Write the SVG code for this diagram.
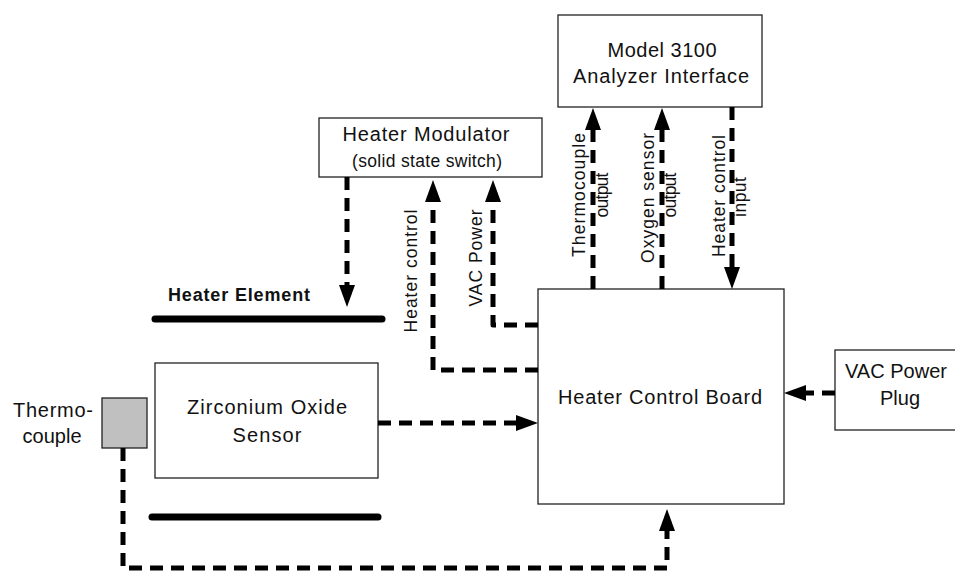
<svg xmlns="http://www.w3.org/2000/svg" width="955" height="572" viewBox="0 0 955 572">
<style>
.box{fill:#fff;stroke:#222;stroke-width:1.3}
.t{font-family:"Liberation Sans",Arial,sans-serif;font-size:20px;fill:#111;text-anchor:middle}
.s{font-size:17.5px}
.b{font-weight:bold;font-size:18px}
.c{fill:none;stroke:#000;stroke-width:5;stroke-dasharray:13 8;stroke-linejoin:round}
.bar{stroke:#000;stroke-width:7;stroke-linecap:round}
</style>
<defs>
<marker id="ah" markerUnits="userSpaceOnUse" markerWidth="24" markerHeight="18" refX="0" refY="9" orient="auto" viewBox="0 0 24 18">
<path d="M0,1 L22,9 L0,17 z" fill="#000"/>
</marker>
</defs>
<rect width="955" height="572" fill="#fff"/>
<g id="model3100">
<rect class="box" x="558" y="15" width="204" height="92"/>
<text class="t" x="662" y="57" textLength="109" lengthAdjust="spacing">Model 3100</text>
<text class="t" x="661" y="83" textLength="176" lengthAdjust="spacing">Analyzer Interface</text>
</g>
<g id="heater-modulator">
<rect class="box" x="319" y="118" width="223" height="59"/>
<text class="t" x="426" y="141" textLength="167" lengthAdjust="spacing">Heater Modulator</text>
<text class="t s" x="427" y="167" textLength="150" lengthAdjust="spacing">(solid state switch)</text>
</g>
<g id="heater-element">
<text class="t b" x="239" y="301" textLength="142" lengthAdjust="spacing">Heater Element</text>
<line class="bar" x1="155" y1="319" x2="382" y2="319"/>
<line class="bar" x1="152" y1="517" x2="378" y2="517"/>
</g>
<g id="zirconium-sensor">
<rect class="box" x="155" y="363" width="223" height="115"/>
<text class="t" x="267" y="414" textLength="160" lengthAdjust="spacing">Zirconium Oxide</text>
<text class="t" x="267" y="442" textLength="69" lengthAdjust="spacing">Sensor</text>
</g>
<g id="thermocouple">
<rect x="102" y="398" width="45" height="50" fill="#c0c0c0" stroke="#222" stroke-width="1.3"/>
<text class="t" x="53" y="417" textLength="80" lengthAdjust="spacing">Thermo-</text>
<text class="t" x="52" y="443" textLength="59" lengthAdjust="spacing">couple</text>
</g>
<g id="heater-control-board">
<rect class="box" x="538" y="289" width="246" height="215"/>
<text class="t" x="660" y="404" textLength="204" lengthAdjust="spacing">Heater Control Board</text>
</g>
<g id="vac-power-plug">
<rect class="box" x="835" y="350" width="130" height="80"/>
<text class="t" x="896" y="378" textLength="102" lengthAdjust="spacing">VAC Power</text>
<text class="t" x="900" y="405" textLength="40" lengthAdjust="spacing">Plug</text>
</g>
<g id="connectors">
<path class="c" d="M347,177 V285" marker-end="url(#ah)"/>
<path class="c" d="M538,370 H433 V202" marker-end="url(#ah)"/>
<path class="c" d="M538,325 H493 V202" marker-end="url(#ah)"/>
<path class="c" d="M378,423 H516" marker-end="url(#ah)"/>
<path class="c" d="M123,448 V568 H667 V531" marker-end="url(#ah)"/>
<path class="c" d="M835,393 H806" marker-end="url(#ah)"/>
<path class="c" d="M593,289 V130" marker-end="url(#ah)"/>
<path class="c" d="M662,289 V130" marker-end="url(#ah)"/>
<path class="c" d="M732,107 V267" marker-end="url(#ah)"/>
</g>
<g id="connector-labels">
<text class="t s" transform="translate(585,195) rotate(-90)" textLength="124" lengthAdjust="spacing">Thermocouple</text>
<text class="t s" transform="translate(608,195) rotate(-90)" textLength="45" lengthAdjust="spacing">output</text>
<text class="t s" transform="translate(654,198) rotate(-90)" textLength="130" lengthAdjust="spacing">Oxygen sensor</text>
<text class="t s" transform="translate(676,195) rotate(-90)" textLength="45" lengthAdjust="spacing">output</text>
<text class="t s" transform="translate(725,196) rotate(-90)" textLength="122" lengthAdjust="spacing">Heater control</text>
<text class="t s" transform="translate(746,197) rotate(-90)" textLength="40" lengthAdjust="spacing">input</text>
<text class="t s" transform="translate(417,271) rotate(-90)" textLength="123" lengthAdjust="spacing">Heater control</text>
<text class="t s" transform="translate(482,258) rotate(-90)" textLength="97" lengthAdjust="spacing">VAC Power</text>
</g>
</svg>
